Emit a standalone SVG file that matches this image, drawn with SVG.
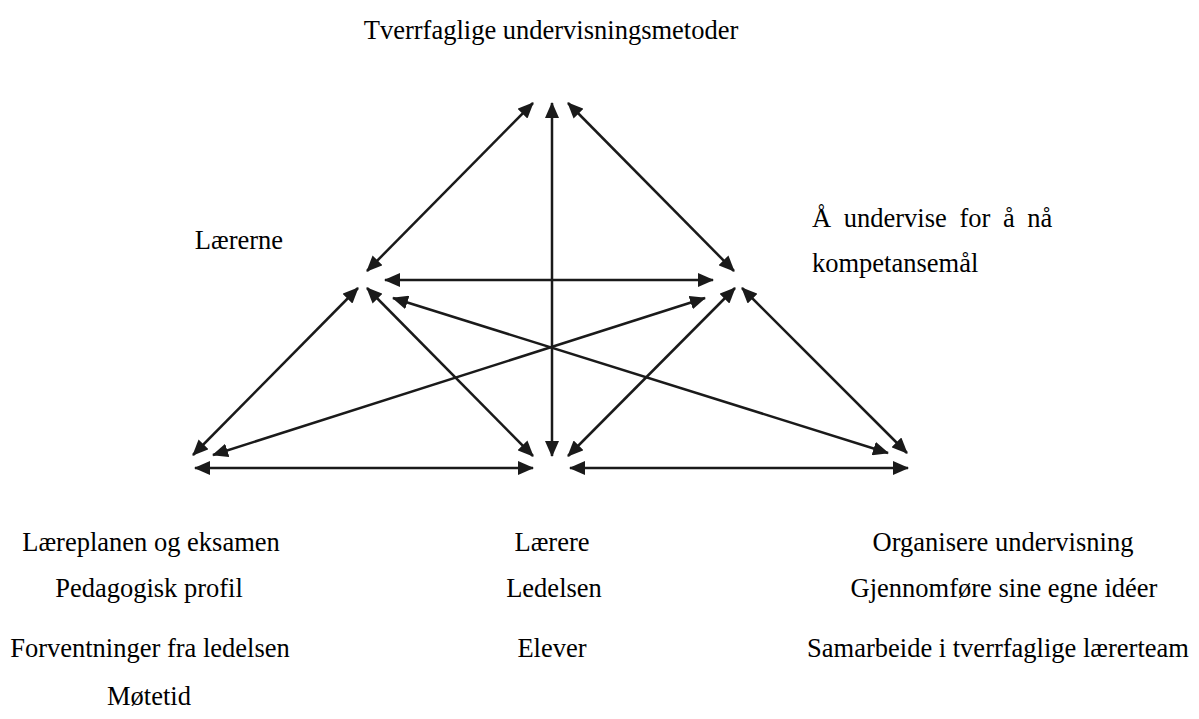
<svg xmlns="http://www.w3.org/2000/svg" width="1199" height="719" viewBox="0 0 1199 719">
<style>
text{font-family:"Liberation Serif","Times New Roman",serif;font-size:26.5px;fill:#000}
.c{text-anchor:middle}
.ln{stroke:#1a1a1a;stroke-width:2.5;fill:none;marker-start:url(#ah);marker-end:url(#ah)}
</style>
<defs>
<marker id="ah" viewBox="0 0 16 14" refX="15" refY="7" markerWidth="16" markerHeight="14" markerUnits="userSpaceOnUse" orient="auto-start-reverse">
<path d="M0,0 L16,7 L0,14 Z" fill="#1a1a1a"/>
</marker>
</defs>
<rect width="1199" height="719" fill="#fff"/>
<g id="connectors">
<line class="ln" x1="533" y1="103" x2="367" y2="271"/>
<line class="ln" x1="552" y1="103" x2="552" y2="456"/>
<line class="ln" x1="568" y1="103" x2="734" y2="271"/>
<line class="ln" x1="385" y1="280" x2="713" y2="280"/>
<line class="ln" x1="358" y1="288" x2="193" y2="455"/>
<line class="ln" x1="367" y1="288" x2="533" y2="456"/>
<line class="ln" x1="393" y1="298" x2="888" y2="453"/>
<line class="ln" x1="705" y1="298" x2="213" y2="455"/>
<line class="ln" x1="735" y1="288" x2="568" y2="456"/>
<line class="ln" x1="742" y1="288" x2="907" y2="453"/>
<line class="ln" x1="195" y1="468" x2="533" y2="468"/>
<line class="ln" x1="570" y1="468" x2="908" y2="468"/>
</g>
<g id="node-top"><text class="c" x="551" y="39">Tverrfaglige undervisningsmetoder</text></g>
<g id="node-left"><text class="c" x="239" y="249">Lærerne</text></g>
<g id="node-right"><text x="812" y="227" word-spacing="6">Å undervise for å nå</text><text x="812" y="272">kompetansemål</text></g>
<g id="node-bottom-left">
<text class="c" x="151" y="551">Læreplanen og eksamen</text>
<text class="c" x="149" y="597">Pedagogisk profil</text>
<text class="c" x="150" y="657">Forventninger fra ledelsen</text>
<text class="c" x="149" y="705">Møtetid</text>
</g>
<g id="node-bottom-center">
<text class="c" x="552" y="551">Lærere</text>
<text class="c" x="554" y="597">Ledelsen</text>
<text class="c" x="552" y="657">Elever</text>
</g>
<g id="node-bottom-right">
<text class="c" x="1003" y="551">Organisere undervisning</text>
<text class="c" x="1004" y="597">Gjennomføre sine egne idéer</text>
<text class="c" x="998" y="657">Samarbeide i tverrfaglige lærerteam</text>
</g>
</svg>
